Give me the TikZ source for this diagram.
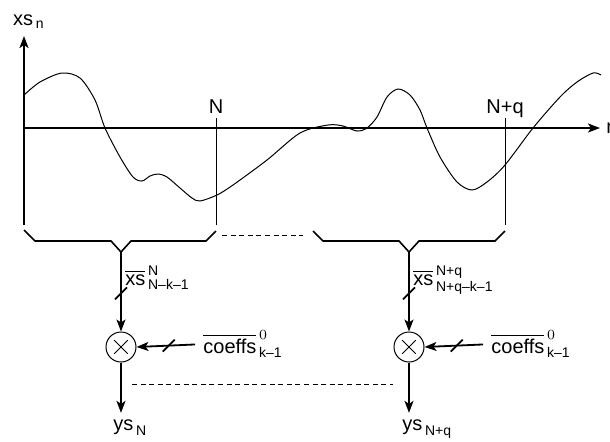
\documentclass[tikz,border=0pt]{standalone}
\usepackage{amsmath}
\usepackage{fontspec}
\setmainfont{Liberation Sans}
\usetikzlibrary{arrows.meta,calc}

\tikzset{
  axis/.style={line width=1pt},
  tick/.style={line width=0.5pt},
  brace/.style={line width=0.8pt},
  conn/.style={line width=0.9pt},
  gap/.style={line width=0.5pt, dash pattern=on 2.5pt off 1.8pt},
  lbl/.style={inner sep=1pt},
  mult/.style={circle, draw, line width=0.5pt, minimum size=15pt, inner sep=0pt,
    path picture={
      \draw[line width=0.5pt] (path picture bounding box.center) +(-3.4pt,-3.4pt) -- +(3.4pt,3.4pt);
      \draw[line width=0.5pt] (path picture bounding box.center) +(-3.4pt,3.4pt) -- +(3.4pt,-3.4pt);
    }},
}

\begin{document}
\begin{tikzpicture}[x=0.5pt, y=-0.5pt, font=\fontsize{10}{12}\selectfont,
    >={Stealth[length=6pt,width=4.5pt,inset=1.5pt]}]
    \useasboundingbox (0,0) rectangle (610,441);

    % Signal
    \draw[line width=0.5pt] plot[smooth, tension=0.5] coordinates {(24,95) (40,82) (62,73)
      (80,78) (95,100) (105,128) (120,157) (133,177) (142,181) (150,176) (158,174)
      (167,177) (180,188) (192,198) (200,201) (217,195) (233,185) (267,160) (300,133)
      (328,125) (343,126) (357,131) (367,128) (377,117) (387,97) (398,89) (410,95)
      (420,110) (427,128) (440,157) (457,182) (472,190) (487,182) (505,165) (533,128)
      (560,97) (577,82) (593,73) (601,75)};

    % Axes
    \draw[axis,->] (24,225) -- (24,36);
    \draw[axis,->] (24,128) -- (600,128);
    \node[lbl] (xsn) at (29,22) {$\text{xs}_{\,\text{n}}$};
    \node[lbl, anchor=west] (nax) at (604,128) {n};

    % Window limits
    \draw[tick] (216,118) -- (216,225);
    \draw[tick] (505,118) -- (505,225);
    \node[lbl, anchor=base] (limN) at (216,113) {N};
    \node[lbl, anchor=base] (limNq) at (505,113) {N+q};

    % Braces
    \draw[brace] (24,230) -- (35,241) -- (111,241) -- (121,252) coordinate (tipL)
      -- (131,241) -- (206,241) -- (216,231);
    \draw[brace] (313,231) -- (323,241) -- (399,241) -- (409,252) coordinate (tipR)
      -- (419,241) -- (495,241) -- (505,231);
    \draw[gap] (222,235) -- (303,235);

    % Products
    \node[mult] (mulL) at (121,347) {};
    \node[mult] (mulR) at (409,347) {};
    \node[lbl, anchor=base west] (xsL) at (123,285) {$\overline{\text{xs}}^{\,\text{N}}_{\,\text{N--k--1}}$};
    \node[lbl, anchor=base west] (xsR) at (411,285) {$\overline{\text{xs}}^{\,\text{N+q}}_{\,\text{N+q--k--1}}$};
    \node[lbl, anchor=base west] (coL) at (201,353) {$\overline{\text{coeffs}}^{\,0}_{\,\text{k--1}}$};
    \node[lbl, anchor=base west] (coR) at (489,353) {$\overline{\text{coeffs}}^{\,0}_{\,\text{k--1}}$};
    \node[lbl, anchor=base west] (ysL) at (111,430) {$\text{ys}_{\,\text{N}}$};
    \node[lbl, anchor=base west] (ysR) at (400,430) {$\text{ys}_{\,\text{N+q}}$};

    \draw[conn,->] (tipL) -- (mulL);
    \draw[conn,->] (tipR) -- (mulR);
    \draw[conn,->, shorten <=3pt] (coL.west) -- (mulL.east);
    \draw[conn,->, shorten <=3pt] (coR.west) -- (mulR.east);
    \draw[conn,->, shorten >=2pt] (mulL) -- (mulL |- ysL.north);
    \draw[conn,->, shorten >=2pt] (mulR) -- (mulR |- ysR.north);
    \draw[gap] (132,384) -- (393,384);

    % Bus slashes
    \draw[conn] ($(tipL)!0.52!(mulL.north)$) +(-6,6) -- +(6,-6);
    \draw[conn] ($(tipR)!0.52!(mulR.north)$) +(-6,6) -- +(6,-6);
    \draw[conn] ($(mulL.east)!0.5!(coL.west)$) +(-6,6) -- +(6,-6);
    \draw[conn] ($(mulR.east)!0.5!(coR.west)$) +(-6,6) -- +(6,-6);
\end{tikzpicture}
\end{document}
